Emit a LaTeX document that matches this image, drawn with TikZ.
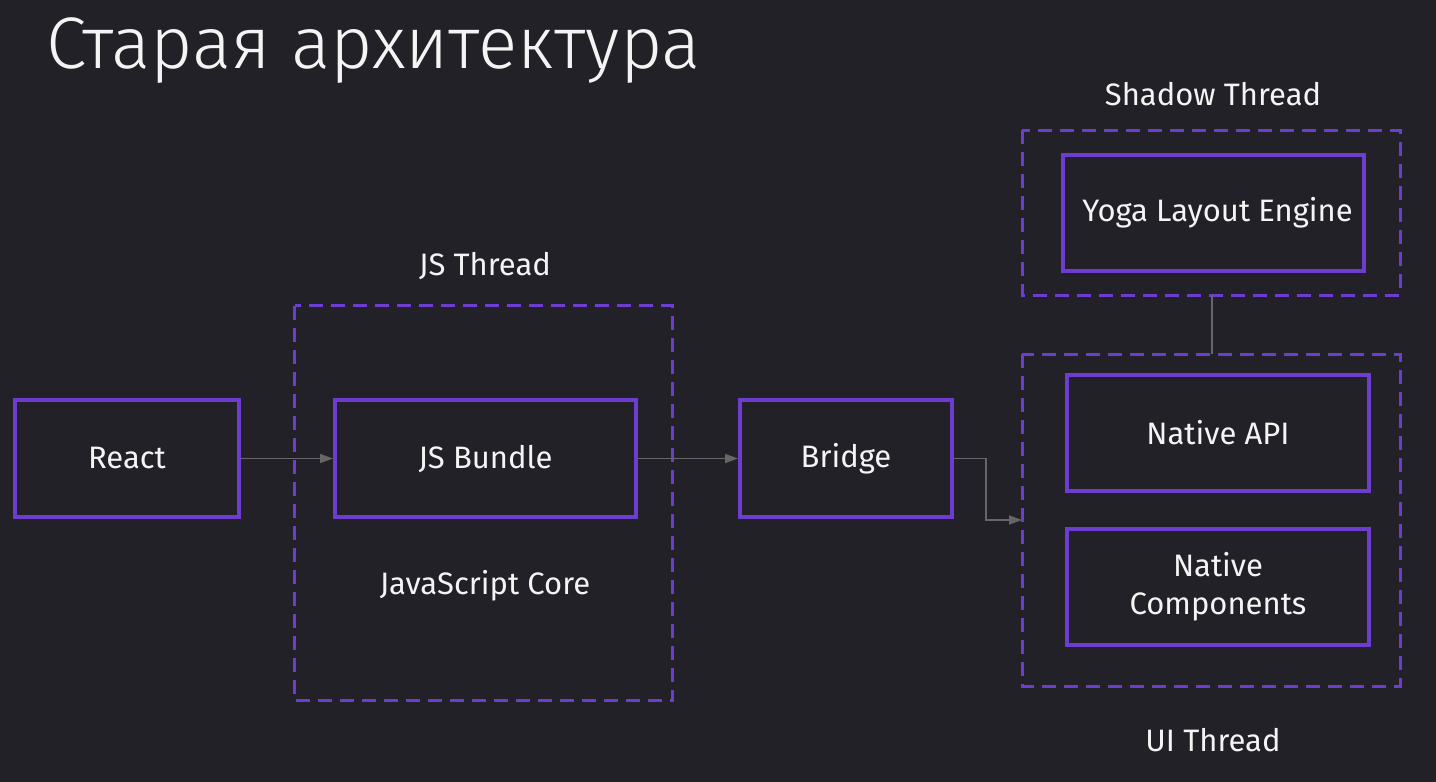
\documentclass[tikz,border=0pt]{standalone}
\usepackage{fontspec}
\setmainfont{Fira Sans}
\newfontfamily\titlefont{Fira Sans Light}
\usepackage{tikz}
\usetikzlibrary{positioning, arrows.meta}
\definecolor{fondo}{HTML}{222128}
\definecolor{morado}{HTML}{6C3DCF}
\definecolor{gris}{HTML}{666666}
\definecolor{texto}{HTML}{F4F4F4}
\tikzset{caja/.style={draw=morado,line width=4pt,minimum height=117pt,text=texto,font=\fontsize{31}{38}\selectfont,align=center}}
\tikzset{hilo/.style={draw=morado,line width=3pt,dash pattern=on 14pt off 8pt}}
\tikzset{arista/.style={draw=gris,line width=1.6pt}}
\tikzset{etiqueta/.style={text=texto,font=\fontsize{31}{38}\selectfont}}

\begin{document}
\begin{tikzpicture}[
                x=1pt, y=-1pt,
                >={Triangle[length=13pt,width=9pt]}
            ]
                \fill[fondo] (0,0) rectangle (1436,782);
                \useasboundingbox (0,0) rectangle (1436,782);

                \node[anchor=base west,text=texto,font=\titlefont\fontsize{73}{84}\selectfont](titulo) at (43,68) {Старая архитектура};

                % hilos
                \draw[hilo] (294.5,305.5) rectangle (672.5,700.5);
                \draw[hilo] (1022,130) rectangle (1400,295);
                \draw[hilo] (1022,354) rectangle (1400,686);
                \coordinate (sombra) at (1212,295);
                \coordinate (ui) at (1212,354);
                \coordinate (entrada) at (1022,520);

                \node[etiqueta](jshilo) at (485,266) {JS Thread};
                \node[etiqueta](sombrahilo) at (1213,94) {Shadow Thread};
                \node[etiqueta](uihilo) at (1213,740) {UI Thread};
                \node[etiqueta](jscore) at (485,586) {JavaScript Core};

                % cajas
                \node[caja,minimum width=224pt](react) at (127,458.5) {React};
                \node[caja,minimum width=301pt,right= 92pt of react](bundle) {JS Bundle};
                \node[caja,minimum width=212pt,right= 100pt of bundle](bridge) {Bridge};
                \node[caja,minimum width=301pt,minimum height=116pt](yoga) at (1213.5,213) {\hspace*{8pt}Yoga Layout Engine};
                \node[caja,minimum width=302pt,minimum height=116pt](api) at (1218,433) {Native API};
                \node[caja,minimum width=302pt,minimum height=116pt](componentes) at (1218,587) {Native\\Components};

                \draw[arista,->] (react) -- (bundle);
                \draw[arista,->] (bundle) -- (bridge);
                \draw[arista,->] (bridge.east) -- ++(32,0) |- (entrada);
                \draw[arista] (sombra) -- (ui);
            \end{tikzpicture}
\end{document}
